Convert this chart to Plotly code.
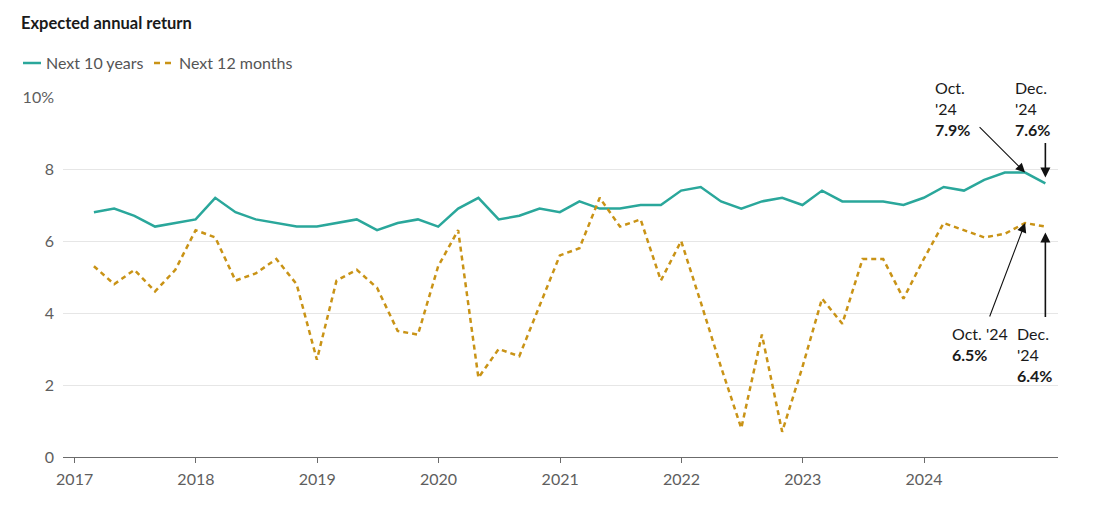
import plotly.graph_objects as go

# ---- data ----
dates = [
    "2017-02-28", "2017-04-30", "2017-06-30", "2017-08-31", "2017-10-31", "2017-12-31",
    "2018-02-28", "2018-04-30", "2018-06-30", "2018-08-31", "2018-10-31", "2018-12-31",
    "2019-02-28", "2019-04-30", "2019-06-30", "2019-08-31", "2019-10-31", "2019-12-31",
    "2020-02-29", "2020-04-30", "2020-06-30", "2020-08-31", "2020-10-31", "2020-12-31",
    "2021-02-28", "2021-04-30", "2021-06-30", "2021-08-31", "2021-10-31", "2021-12-31",
    "2022-02-28", "2022-04-30", "2022-06-30", "2022-08-31", "2022-10-31", "2022-12-31",
    "2023-02-28", "2023-04-30", "2023-06-30", "2023-08-31", "2023-10-31", "2023-12-31",
    "2024-02-29", "2024-04-30", "2024-06-30", "2024-08-31", "2024-10-31", "2024-12-31",
]

next_10_years = [
    6.8, 6.9, 6.7, 6.4, 6.5, 6.6,
    7.2, 6.8, 6.6, 6.5, 6.4, 6.4,
    6.5, 6.6, 6.3, 6.5, 6.6, 6.4,
    6.9, 7.2, 6.6, 6.7, 6.9, 6.8,
    7.1, 6.9, 6.9, 7.0, 7.0, 7.4,
    7.5, 7.1, 6.9, 7.1, 7.2, 7.0,
    7.4, 7.1, 7.1, 7.1, 7.0, 7.2,
    7.5, 7.4, 7.7, 7.9, 7.9, 7.6,
]

next_12_months = [
    5.3, 4.8, 5.2, 4.6, 5.2, 6.3,
    6.1, 4.9, 5.1, 5.5, 4.8, 2.7,
    4.9, 5.2, 4.7, 3.5, 3.4, 5.3,
    6.3, 2.2, 3.0, 2.8, 4.2, 5.6,
    5.8, 7.2, 6.4, 6.6, 4.9, 6.0,
    4.3, 2.5, 0.8, 3.4, 0.7, 2.5,
    4.4, 3.7, 5.5, 5.5, 4.4, 5.5,
    6.5, 6.3, 6.1, 6.2, 6.5, 6.4,
]

x_tick_vals = ["2017-01-01", "2018-01-01", "2019-01-01", "2020-01-01",
               "2021-01-01", "2022-01-01", "2023-01-01", "2024-01-01"]
x_tick_text = ["2017", "2018", "2019", "2020", "2021", "2022", "2023", "2024"]

y_tick_vals = [0, 2, 4, 6, 8, 10]
y_tick_text = ["0", "2", "4", "6", "8", "10%"]

series_names = ["Next 10 years", "Next 12 months"]

callout_oct = 46
callout_dec = 47

FONT = "Lato"
TEAL = "#2aa79b"
GOLD = "#c99316"
GRID = "#e6e6e6"
AXIS = "#6b6b6b"
TICKTXT = "#5e5e5e"
INK = "#1a1a1a"
FS = 16

W, H = 1110, 506
ML, MR, MT, MB = 63, 52, 97, 49
PW = W - ML - MR
PH = H - MT - MB


def px_x(px):
    return (px - ML) / PW


def px_y(py):
    return (H - MB - py) / PH


fig = go.Figure()
fig.add_trace(go.Scatter(
    x=dates, y=next_10_years, name=series_names[0], mode="lines",
    line=dict(color=TEAL, width=2.5), hoverinfo="skip", showlegend=False,
))
fig.add_trace(go.Scatter(
    x=dates, y=next_12_months, name=series_names[1], mode="lines",
    line=dict(color=GOLD, width=2.5, dash="5px,4px"), hoverinfo="skip", showlegend=False,
))

annotations = []
shapes = []

# ---- legend (drawn manually to match the short key lines) ----
LEG_Y = px_y(63)
shapes.append(dict(type="line", xref="paper", yref="paper",
                   x0=px_x(23), x1=px_x(41), y0=LEG_Y, y1=LEG_Y,
                   line=dict(color=TEAL, width=2.5)))
shapes.append(dict(type="line", xref="paper", yref="paper",
                   x0=px_x(154), x1=px_x(171), y0=LEG_Y, y1=LEG_Y,
                   line=dict(color=GOLD, width=2.5, dash="6px,5px")))
for name, left in zip(series_names, [45, 178]):
    annotations.append(dict(
        x=px_x(left) - 1 / PW, y=LEG_Y, xref="paper", yref="paper", text=name,
        showarrow=False, xanchor="left", yanchor="middle",
        font=dict(family=FONT, size=FS, color="#555555"),
    ))


def arrow(idx, series, ax, ay, width, size, standoff):
    annotations.append(dict(
        x=dates[idx], y=series[idx], xref="x", yref="y", text="",
        showarrow=True, ax=ax, ay=ay, axref="pixel", ayref="pixel",
        arrowhead=2, arrowsize=size,
        arrowwidth=width, arrowcolor="#111111", standoff=standoff,
    ))


def label(idx, series, text, xshift, yshift):
    annotations.append(dict(
        x=dates[idx], y=series[idx], xref="x", yref="y", text=text,
        showarrow=False, xanchor="left", yanchor="middle", align="left",
        xshift=xshift, yshift=yshift,
        font=dict(family=FONT, size=FS, color=INK),
    ))


def fmt(v):
    return f"{v:.1f}%"


# upper callouts (10-year series)
arrow(callout_oct, next_10_years, -47, -47, 1.1, 1.7, 0)
arrow(callout_dec, next_10_years, 0, -42, 1.6, 1.25, 6)
label(callout_oct, next_10_years, f"Oct.<br>'24<br><b>{fmt(next_10_years[callout_oct])}</b>", -92, 64)
label(callout_dec, next_10_years, f"Dec.<br>'24<br><b>{fmt(next_10_years[callout_dec])}</b>", -32, 75)

# lower callouts (12-month series)
arrow(callout_oct, next_12_months, -36, 95, 1.1, 1.7, 0)
arrow(callout_dec, next_12_months, 0, 92, 1.6, 1.25, 6)
label(callout_oct, next_12_months, f"Oct. '24<br><b>{fmt(next_12_months[callout_oct])}</b>", -75, -121)
label(callout_dec, next_12_months, f"Dec.<br>'24<br><b>{fmt(next_12_months[callout_dec])}</b>", -30, -128)

fig.update_layout(
    width=W, height=H,
    margin=dict(l=ML, r=MR, t=MT, b=MB, autoexpand=False),
    paper_bgcolor="white", plot_bgcolor="white",
    font=dict(family=FONT, size=FS, color=TICKTXT),
    title=dict(
        text="<b>Expected annual return</b>",
        x=21 / W, xref="container", xanchor="left",
        y=1 - 23 / H, yref="container", yanchor="middle",
        font=dict(family=FONT, size=16.5, color=INK),
    ),
    showlegend=False,
    annotations=annotations,
    shapes=shapes,
    xaxis=dict(
        type="date",
        range=["2016-11-27", "2025-02-07"],
        tickvals=x_tick_vals, ticktext=x_tick_text,
        showgrid=False, zeroline=False,
        showline=True, linecolor=AXIS, linewidth=1,
        ticks="outside", ticklen=5, tickcolor=AXIS, tickwidth=1,
        ticklabelstandoff=3,
        tickfont=dict(family=FONT, size=FS, color=TICKTXT),
        fixedrange=True,
    ),
    yaxis=dict(
        range=[0, 10],
        tickvals=y_tick_vals, ticktext=y_tick_text,
        showgrid=True, gridcolor=GRID, gridwidth=1,
        zeroline=False, showline=False, ticks="",
        ticklabelstandoff=8,
        tickfont=dict(family=FONT, size=FS, color=TICKTXT),
        fixedrange=True,
    ),
)

fig.write_html(
    "out.html",
    config={"displayModeBar": False},
    post_script="document.body.style.margin='0';document.body.style.overflow='hidden';",
)
